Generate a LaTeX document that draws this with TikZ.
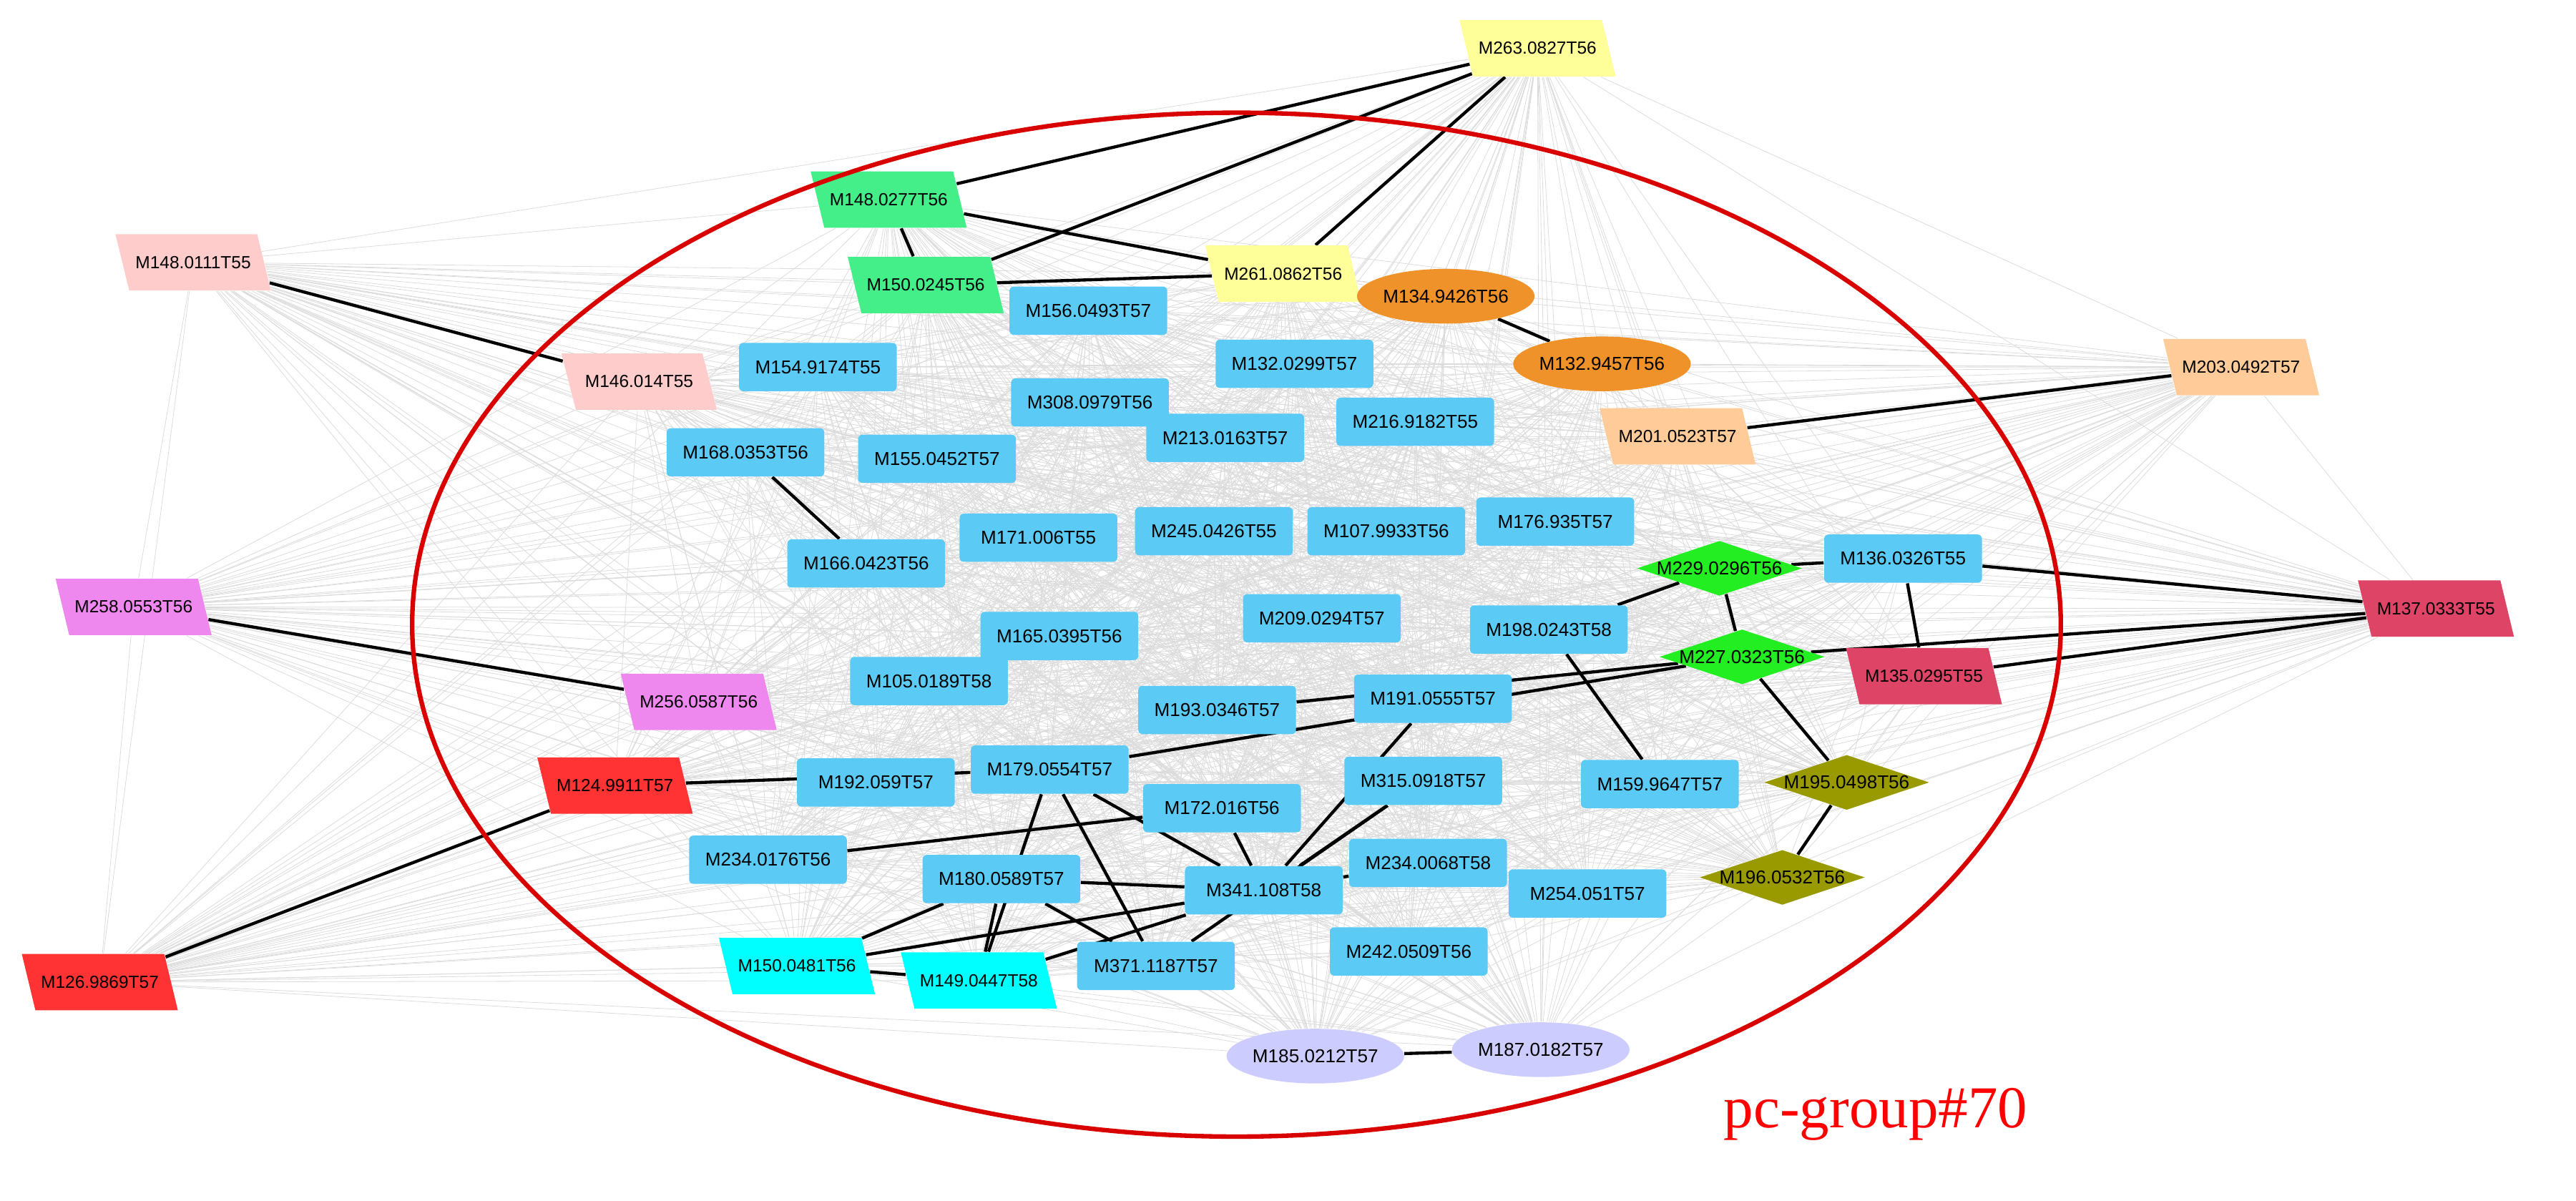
\documentclass[tikz,border=0pt]{standalone}
\usepackage{fontspec}
\setmainfont{Liberation Sans}
\usepackage{tikz}
\usetikzlibrary{shapes.geometric,backgrounds}
\definecolor{cBlue}{RGB}{91,203,245}
\definecolor{cYellow}{RGB}{255,255,153}
\definecolor{cMint}{RGB}{68,238,136}
\definecolor{cPink}{RGB}{255,204,204}
\definecolor{cOrange}{RGB}{240,146,42}
\definecolor{cPeach}{RGB}{255,204,153}
\definecolor{cViolet}{RGB}{238,136,238}
\definecolor{cCrimson}{RGB}{221,68,102}
\definecolor{cGreen}{RGB}{34,238,34}
\definecolor{cOlive}{RGB}{153,153,0}
\definecolor{cRed}{RGB}{255,51,51}
\definecolor{cCyan}{RGB}{0,255,255}
\definecolor{cLav}{RGB}{204,204,255}
\tikzstyle{every metab} = [font=\fontsize{6.6}{7}\selectfont]
\tikzstyle{box} = [rectangle, rounded corners=1.5pt, fill=cBlue,
minimum width=1.96cm, minimum height=0.6cm, inner sep=1pt, every metab]
\tikzstyle{para} = [trapezium, trapezium left angle=135, trapezium right angle=45,
trapezium stretches=true, minimum width=1.94cm, minimum height=0.7cm,
inner sep=0pt, every metab, font=\fontsize{6.2}{7}\selectfont]
\tikzstyle{dia} = [diamond, aspect=3, minimum width=1.9cm, minimum height=0.64cm,
inner sep=0pt, every metab]
\tikzstyle{oval} = [ellipse, minimum width=2cm, minimum height=0.68cm,
inner sep=0pt, every metab]
\tikzstyle{weak} = [draw=gray!28, line width=0.2pt]
\tikzstyle{strong} = [draw=black, line width=1.1pt]

\begin{document}
\begin{tikzpicture}[x=0.02cm, y=-0.02cm]
	\useasboundingbox (0,0) rectangle (1600,745.6);
	% outer nodes
	\node[para, fill=cYellow] (m263) at (955,30) {M263.0827T56};
	\node[para, fill=cMint] (m148g) at (552,124) {M148.0277T56};
	\node[para, fill=cMint] (m150g) at (575,177) {M150.0245T56};
	\node[para, fill=cYellow] (m261) at (797,170) {M261.0862T56};
	\node[para, fill=cPink] (m148p) at (120,163) {M148.0111T55};
	\node[para, fill=cPink] (m146) at (397,237) {M146.014T55};
	\node[oval, fill=cOrange] (m134) at (898,184) {M134.9426T56};
	\node[oval, fill=cOrange] (m132o) at (995,226) {M132.9457T56};
	\node[para, fill=cPeach] (m203) at (1392,228) {M203.0492T57};
	\node[para, fill=cPeach] (m201) at (1042,271) {M201.0523T57};
	\node[para, fill=cViolet] (m258) at (83,377) {M258.0553T56};
	\node[para, fill=cViolet] (m256) at (434,436) {M256.0587T56};
	\node[para, fill=cCrimson] (m137) at (1513,378) {M137.0333T55};
	\node[para, fill=cCrimson] (m135) at (1195,420) {M135.0295T55};
	\node[dia, fill=cGreen] (m229) at (1068,353) {M229.0296T56};
	\node[dia, fill=cGreen] (m227) at (1082,408) {M227.0323T56};
	\node[dia, fill=cOlive] (m195) at (1147,486) {M195.0498T56};
	\node[dia, fill=cOlive] (m196) at (1107,545) {M196.0532T56};
	\node[para, fill=cRed] (m124) at (382,488) {M124.9911T57};
	\node[para, fill=cRed] (m126) at (62,610) {M126.9869T57};
	\node[para, fill=cCyan] (m150c) at (495,600) {M150.0481T56};
	\node[para, fill=cCyan] (m149) at (608,609) {M149.0447T58};
	\node[oval, fill=cLav] (m185) at (817,656) {M185.0212T57};
	\node[oval, fill=cLav] (m187) at (957,652) {M187.0182T57};
	% inner nodes
	\node[box] (m156) at (676,193) {M156.0493T57};
	\node[box] (m154) at (508,228) {M154.9174T55};
	\node[box] (m132) at (804,226) {M132.0299T57};
	\node[box] (m308) at (677,250) {M308.0979T56};
	\node[box] (m168) at (463,281) {M168.0353T56};
	\node[box] (m155) at (582,285) {M155.0452T57};
	\node[box] (m213) at (761,272) {M213.0163T57};
	\node[box] (m216) at (879,262) {M216.9182T55};
	\node[box] (m171) at (645,334) {M171.006T55};
	\node[box] (m245) at (754,330) {M245.0426T55};
	\node[box] (m107) at (861,330) {M107.9933T56};
	\node[box] (m176) at (966,324) {M176.935T57};
	\node[box] (m166) at (538,350) {M166.0423T56};
	\node[box] (m136) at (1182,347) {M136.0326T55};
	\node[box] (m209) at (821,384) {M209.0294T57};
	\node[box] (m165) at (658,395) {M165.0395T56};
	\node[box] (m198) at (962,391) {M198.0243T58};
	\node[box] (m105) at (577,423) {M105.0189T58};
	\node[box] (m193) at (756,441) {M193.0346T57};
	\node[box] (m191) at (890,434) {M191.0555T57};
	\node[box] (m179) at (652,478) {M179.0554T57};
	\node[box] (m192) at (544,486) {M192.059T57};
	\node[box] (m315) at (884,485) {M315.0918T57};
	\node[box] (m159) at (1031,487) {M159.9647T57};
	\node[box] (m172) at (759,502) {M172.016T56};
	\node[box] (m234a) at (477,534) {M234.0176T56};
	\node[box] (m180) at (622,546) {M180.0589T57};
	\node[box] (m234b) at (887,536) {M234.0068T58};
	\node[box] (m341) at (785,553) {M341.108T58};
	\node[box] (m254) at (986,555) {M254.051T57};
	\node[box] (m242) at (875,591) {M242.0509T56};
	\node[box] (m371) at (718,600) {M371.1187T57};

	\node[text=red, font=\fontsize{21}{24}\rmfamily\fontspec{Liberation Serif}] (title) at (1165,692) {pc-group\#70};

	\begin{pgfonlayer}{background}
		% faint links between every pair
		\foreach \a [count=\i] in {m263,m148g,m150g,m261,m148p,m146,m134,m132o,m203,m201,m258,m256,m137,m135,m229,m227,m195,m196,m124,m126,m150c,m149,m185,m187,m156,m154,m132,m308,m168,m155,m213,m216,m171,m245,m107,m176,m166,m136,m209,m165,m198,m105,m193,m191,m179,m192,m315,m159,m172,m234a,m180,m234b,m341,m254,m242,m371}
			\foreach \b [count=\j] in {m263,m148g,m150g,m261,m148p,m146,m134,m132o,m203,m201,m258,m256,m137,m135,m229,m227,m195,m196,m124,m126,m150c,m149,m185,m187,m156,m154,m132,m308,m168,m155,m213,m216,m171,m245,m107,m176,m166,m136,m209,m165,m198,m105,m193,m191,m179,m192,m315,m159,m172,m234a,m180,m234b,m341,m254,m242,m371}
				{\ifnum\j>\i \draw[weak] (\a) -- (\b);\fi}
		% strong links
		\foreach \a/\b in {m263/m148g,m263/m150g,m263/m261,m148g/m150g,m148g/m261,m150g/m261,
			m148p/m146,m134/m132o,m203/m201,m258/m256,m137/m136,m137/m135,m137/m227,
			m136/m135,m136/m229,m229/m227,m229/m198,m227/m193,m227/m179,m195/m196,m195/m227,
			m124/m126,m124/m179,m150c/m149,m150c/m180,m150c/m341,m149/m341,m149/m179,m149/m180,
			m185/m187,m179/m371,m180/m371,m172/m234a,m341/m191,m341/m315,m341/m234b,m341/m172,
			m179/m341,m180/m341,m371/m315,m166/m168,m198/m159}
			\draw[strong] (\a) -- (\b);
	\end{pgfonlayer}
	\draw[red!85!black, line width=1.6pt] (768,388) ellipse [x radius=512, y radius=-318];
\end{tikzpicture}
\end{document}
